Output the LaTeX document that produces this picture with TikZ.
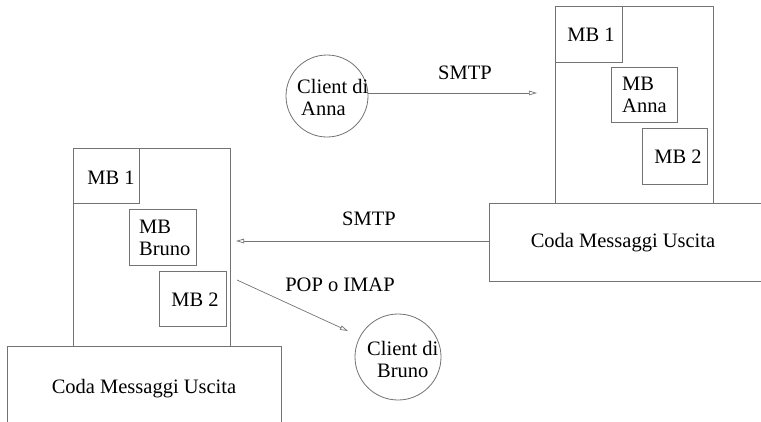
\documentclass[tikz,border=0pt]{standalone}
\usepackage{fontspec}
\setmainfont{Liberation Serif}
\usetikzlibrary{arrows.meta}
\begin{document}
\begin{tikzpicture}[x=1pt,y=-1pt,
  every node/.style={font=\fontsize{20.5}{22}\selectfont, inner sep=0pt, text=black},
  box/.style={draw=black!55, line width=0.8pt, rectangle, anchor=north west},
  client/.style={draw=black!55, line width=0.8pt, circle, align=left},
  link/.style={draw=black!55, line width=0.7pt, -{Triangle[open, length=8pt, width=4.5pt]}},
  lbl/.style={align=left}]
\useasboundingbox (0,0) rectangle (761,421);
\clip (0,0) rectangle (761,421);

% Anna's server (right)
\node[box, minimum width=158pt, minimum height=197pt] (srvA) at (555,6) {};
\node[box, minimum width=67pt, minimum height=56pt] (mb1A) at (555,6) {};
\node at (591,35) {MB 1};
\node[box, minimum width=66pt, minimum height=55pt] (mbAnna) at (611,67) {};
\node[lbl, anchor=west] at (622,95) {MB\\Anna};
\node[box, minimum width=65pt, minimum height=56pt] (mb2A) at (642,128) {};
\node at (678,157) {MB 2};
\node[box, minimum width=290pt, minimum height=78pt] (codaA) at (489,203) {};
\node (codaAtxt) at (623,243) {Coda Messaggi Uscita};

% Bruno's server (left)
\node[box, minimum width=157pt, minimum height=198pt] (srvB) at (73,148) {};
\node[box, minimum width=66pt, minimum height=55pt] (mb1B) at (73,148) {};
\node at (111,178) {MB 1};
\node[box, minimum width=67pt, minimum height=56pt] (mbBruno) at (129,209) {};
\node[lbl, anchor=west] at (139,238) {MB\\Bruno};
\node[box, minimum width=67pt, minimum height=55pt] (mb2B) at (159,271) {};
\node at (195,300) {MB 2};
\node[box, minimum width=274pt, minimum height=90pt] (codaB) at (7,346) {};
\node (codaBtxt) at (144,389) {Coda Messaggi Uscita};

% clients
\node[client, minimum size=82pt] (anna) at (327,96) {};
\node[lbl, anchor=west] (annatxt) at (297,97) {Client di\\\hspace*{4pt}Anna};
\node[client, minimum size=86pt] (bruno) at (398,357) {};
\node[lbl, anchor=west] (brunotxt) at (367,359) {Client di\\\hspace*{10pt}Bruno};

% connections
\coordinate (tipA) at (537,93);
\draw[link] (anna.east |- 0,93) -- (tipA);
\node (smtp1) at (465,73) {SMTP};

\coordinate (srcB) at (489,241);
\coordinate (tipB) at (236,241);
\draw[link] (srcB) -- (tipB);
\node (smtp2) at (369,219) {SMTP};

\coordinate (popsrc) at (237,280);
\coordinate (poptip) at (348,331);
\draw[link] (popsrc) -- (poptip);
\node (pop) at (340,285) {POP o IMAP};
\end{tikzpicture}
\end{document}
